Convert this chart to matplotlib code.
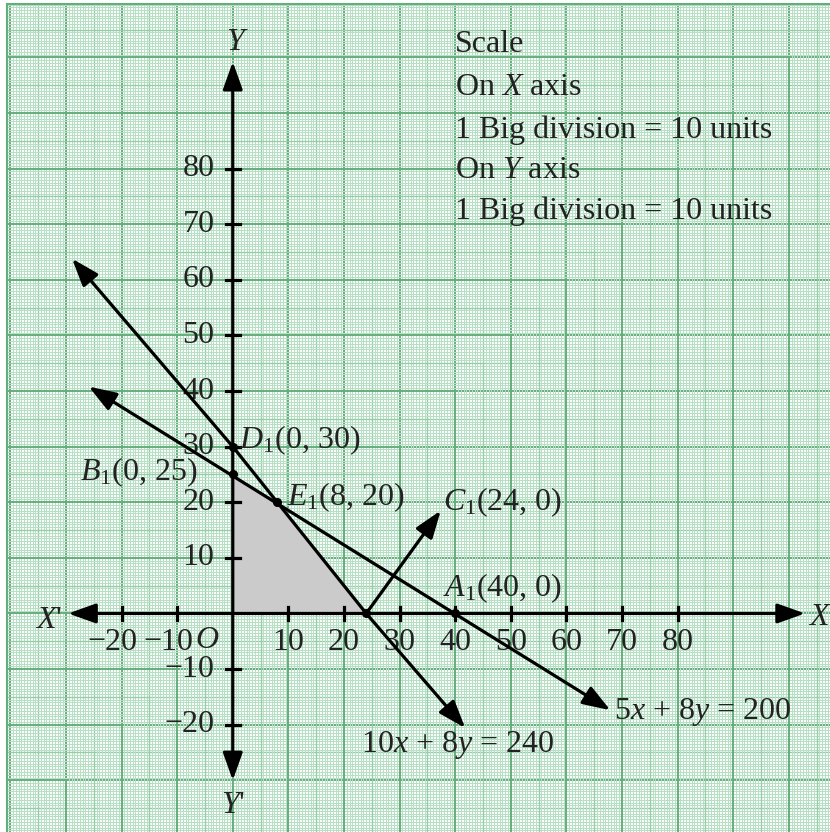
import numpy as np
import matplotlib
matplotlib.use('Agg')
import matplotlib.pyplot as plt

plt.rcParams['font.family'] = ['Liberation Serif', 'DejaVu Serif']
plt.rcParams['mathtext.fontset'] = 'custom'
plt.rcParams['mathtext.rm'] = 'Liberation Serif'
plt.rcParams['mathtext.it'] = 'Liberation Serif:italic'

# data
# feasible region (shaded)
region_x = [0, 0, 8, 24]
region_y = [0, 25, 20, 0]

# constraint lines (vertices as drawn, with arrow at both ends)
line1_x = [-28.9, 0, 24, 41.8]     # 10x + 8y = 240
line1_y = [63.8, 30, 0, -20.6]
line2_x = [-25.9, 67.9]            # 5x + 8y = 200
line2_y = [40.8, -17.4]

# direction arrow from (24, 0)
dir_x = [24, 37.4]
dir_y = [0, 18.5]

# corner points
pts_x = [0, 0, 8, 40, 24]
pts_y = [30, 25, 20, 0, 0]

xticks = [-20, -10, 10, 20, 30, 40, 50, 60, 70, 80]
yticks = [-20, -10, 10, 20, 30, 40, 50, 60, 70, 80]

W, H = 830, 832
fig = plt.figure(figsize=(W / 100, H / 100), dpi=100)
ax = fig.add_axes([7 / W, 0, 1 - 7 / W, 1 - 4 / H])
xlim = (-40.6, 107.4)
ylim = (-39.3, 109.6)
ax.set_xlim(*xlim)
ax.set_ylim(*ylim)
ax.set_xticks([])
ax.set_yticks([])

# graph paper
minor_c = '#b6dfc5'
mid_c = '#97cca9'
major_c = '#64ae7b'
for v in np.arange(-40, 110, 0.5):
    if v % 10 == 0:
        c, lw = major_c, 1.4
    elif v % 5 == 0:
        c, lw = mid_c, 1.0
    else:
        c, lw = minor_c, 0.75
    ax.axvline(v, color=c, lw=lw, zorder=0)
    ax.axhline(v, color=c, lw=lw, zorder=0)
for s in ['bottom', 'right']:
    ax.spines[s].set_visible(False)
for s in ['left', 'top']:
    ax.spines[s].set_color(major_c)
    ax.spines[s].set_linewidth(1.5)

# shaded region
ax.fill(region_x, region_y, color='#cbcbcb', zorder=1, lw=0)

# axes with arrows
arrow_kw = dict(arrowstyle='-|>,head_length=1.4,head_width=0.5', lw=2.3,
                color='k', mutation_scale=12, shrinkA=0, shrinkB=0)
back_kw = dict(arrowstyle='<|-,head_length=1.4,head_width=0.5', lw=2.3,
               color='k', mutation_scale=12, shrinkA=0, shrinkB=0)
both_kw = dict(arrowstyle='<|-|>,head_length=1.4,head_width=0.5', lw=2.3,
               color='k', mutation_scale=12, shrinkA=0, shrinkB=0)
ax.annotate('', xy=(102.9, 0), xytext=(0, 0), arrowprops=arrow_kw, zorder=3)
ax.annotate('', xy=(-29.6, 0), xytext=(0, 0), arrowprops=arrow_kw, zorder=3)
ax.annotate('', xy=(0, 99.2), xytext=(0, 0), arrowprops=arrow_kw, zorder=3)
ax.annotate('', xy=(0, -30), xytext=(0, 0), arrowprops=arrow_kw, zorder=3)

# ticks
for t in xticks:
    ax.plot([t, t], [-1.1, 1.1], color='k', lw=2.3, zorder=3)
for t in yticks:
    ax.plot([-1.3, 1.3], [t, t], color='k', lw=2.3, zorder=3)

fs = 23
tc = '#222222'
for t in xticks:
    lab = str(t).replace('-', '\u2212')
    off = -1.6 if t < 0 else 0
    ax.text(t + off, -5.2, lab, ha='center', va='center', fontsize=fs, color=tc)
for t in yticks:
    lab = str(t).replace('-', '\u2212')
    ax.text(-3.3, t, lab, ha='right', va='center', fontsize=fs, color=tc)
ax.text(-4.6, -4.9, '$O$', ha='center', va='center', fontsize=fs, color=tc)

# constraint lines
ax.plot(line1_x[1:-1], line1_y[1:-1], color='k', lw=2.3, zorder=4)
ax.annotate('', xy=(line1_x[1], line1_y[1]), xytext=(line1_x[0], line1_y[0]),
            arrowprops=back_kw, zorder=4)
ax.annotate('', xy=(line1_x[-1], line1_y[-1]), xytext=(line1_x[-2], line1_y[-2]),
            arrowprops=arrow_kw, zorder=4)
ax.annotate('', xy=(line2_x[1], line2_y[1]), xytext=(line2_x[0], line2_y[0]),
            arrowprops=both_kw, zorder=4)
ax.annotate('', xy=(dir_x[1], dir_y[1]), xytext=(dir_x[0], dir_y[0]),
            arrowprops=arrow_kw, zorder=4)

ax.plot(pts_x, pts_y, 'o', color='k', ms=5.5, zorder=5)

# labels
ax.text(0.85, 102.7, '$Y$', ha='center', va='center', fontsize=fs, color=tc)
ax.text(0.1, -34.5, "$Y$'", ha='center', va='center', fontsize=fs, color=tc)
ax.text(-33.2, -1.2, "$X$'", ha='center', va='center', fontsize=fs, color=tc)
ax.text(103.4, -0.8, '$X$', ha='left', va='center', fontsize=fs, color=tc)

ax.text(1.2, 31.2, '$D_1$(0, 30)', ha='left', va='center', fontsize=fs, color=tc)
ax.text(-6.4, 25.4, '$B_1$(0, 25)', ha='right', va='center', fontsize=fs, color=tc)
ax.text(9.8, 20.9, '$E_1$(8, 20)', ha='left', va='center', fontsize=fs, color=tc)
ax.text(37.8, 20.0, '$C_1$(24, 0)', ha='left', va='center', fontsize=fs, color=tc)
ax.text(37.8, 4.6, '$A_1$(40, 0)', ha='left', va='center', fontsize=fs, color=tc)
ax.text(23.0, -23.7, '10$x$ + 8$y$ = 240', ha='left', va='center', fontsize=fs, color=tc)
ax.text(68.6, -17.7, '5$x$ + 8$y$ = 200', ha='left', va='center', fontsize=fs, color=tc)

scale_lines = ['Scale', 'On $X$ axis', '1 Big division = 10 units',
               'On $Y$ axis', '1 Big division = 10 units']
scale_y = [102.4, 94.5, 86.9, 79.7, 72.3]
for s, yy in zip(scale_lines, scale_y):
    ax.text(40.0, yy, s, ha='left', va='center', fontsize=fs, color=tc)

fig.savefig('out.png', dpi=100)
